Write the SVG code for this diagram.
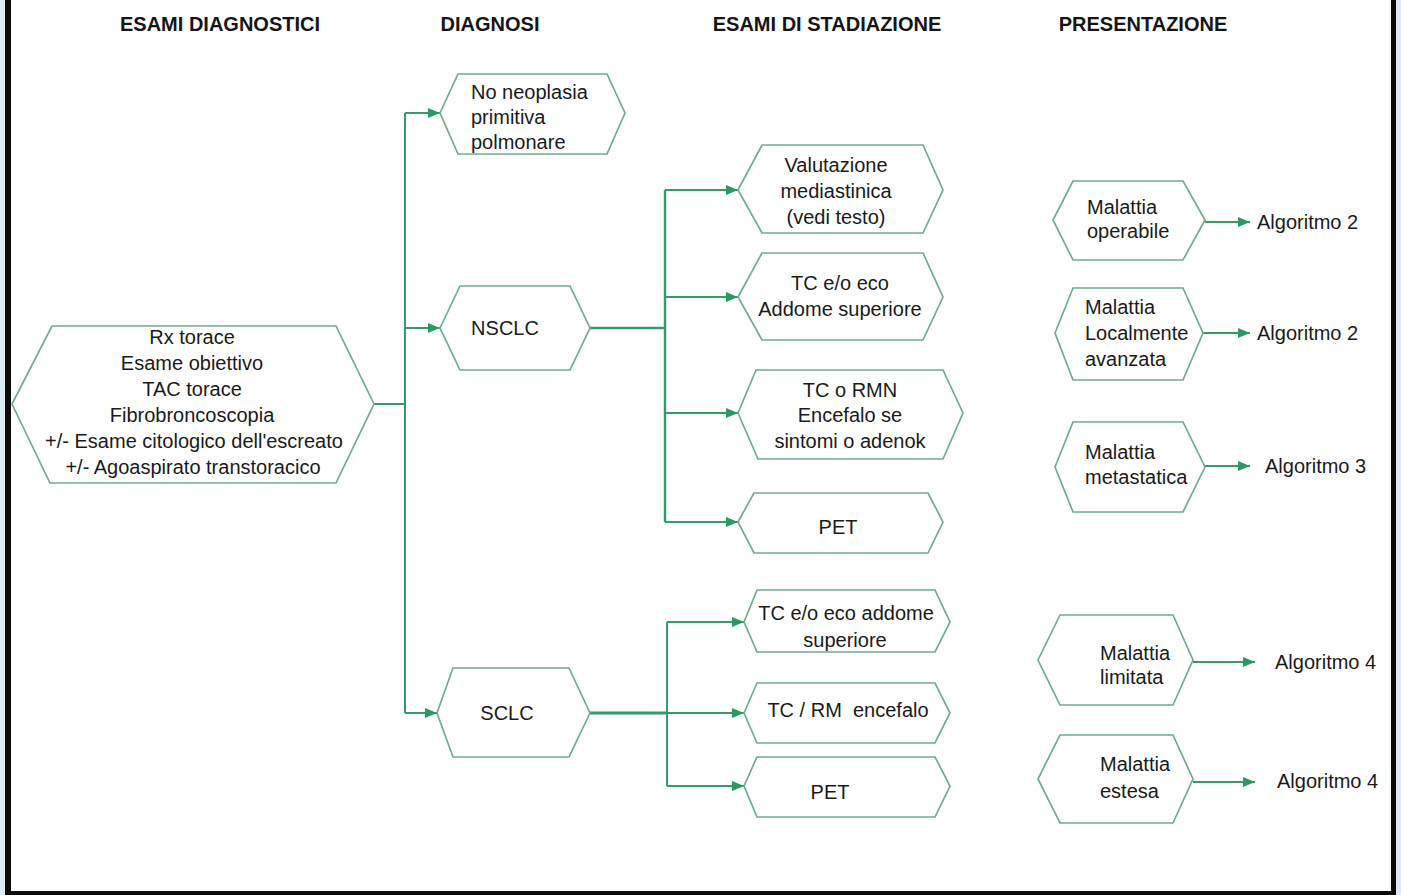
<svg xmlns="http://www.w3.org/2000/svg" width="1401" height="895" viewBox="0 0 1401 895">
<style>
.hex{fill:#ffffff;stroke:#72aa91;stroke-width:1.7}
.t{font-family:"Liberation Sans",Arial,sans-serif;font-size:20px;fill:#1a1a1a}
.c{text-anchor:middle}
.h{font-family:"Liberation Sans",Arial,sans-serif;font-size:20px;font-weight:bold;fill:#151515;text-anchor:middle}
.ln{fill:none;stroke:#369a6a;stroke-width:2}
.thick{stroke-width:3}
.ar{fill:none;stroke:#369a6a;stroke-width:2;marker-end:url(#ah)}
</style>
<defs>
<marker id="ah" markerUnits="userSpaceOnUse" markerWidth="12" markerHeight="10" refX="12" refY="5" orient="auto">
<path d="M0,0 L12,5 L0,10 z" fill="#2a9a62"/>
</marker>
</defs>
<g id="frame">
<rect x="0" y="0" width="1401" height="895" fill="#ffffff"/>
<rect x="0" y="0" width="5" height="895" fill="#dcebf3"/>
<rect x="5" y="0" width="6" height="895" fill="#0a0a0a"/>
<rect x="1396" y="0" width="5" height="895" fill="#dcebf3"/>
<rect x="1391" y="0" width="5" height="895" fill="#0a0a0a"/>
<rect x="5" y="891" width="1391" height="4" fill="#0a0a0a"/>
</g>
<g id="headers">
<text class="h" x="220" y="31">ESAMI DIAGNOSTICI</text>
<text class="h" x="490" y="31">DIAGNOSI</text>
<text class="h" x="827" y="31">ESAMI DI STADIAZIONE</text>
<text class="h" x="1143" y="31">PRESENTAZIONE</text>
</g>
<g id="connectors">
<path class="ln" d="M374,404 H405 M405,113 V713"/>
<path class="ar" d="M405,113 H440"/>
<path class="ar" d="M405,328 H440"/>
<path class="ar" d="M405,713 H437"/>
<path class="ln" d="M590,328 H665 M665,190 V522" style="stroke-width:2.4"/>
<path class="ar" d="M665,190 H738"/>
<path class="ar" d="M665,297 H738"/>
<path class="ar" d="M665,413 H738"/>
<path class="ar" d="M665,522 H738"/>
<path class="ln thick" d="M590,713 H667"/>
<path class="ln" d="M667,622 V786"/>
<path class="ar" d="M667,622 H744"/>
<path class="ar" d="M667,713 H744"/>
<path class="ar" d="M667,786 H744"/>
<path class="ar" d="M1205,222 H1250"/>
<path class="ar" d="M1203,333 H1250"/>
<path class="ar" d="M1205,466 H1250"/>
<path class="ar" d="M1193,662 H1255"/>
<path class="ar" d="M1193,782 H1255"/>
</g>
<g id="esami-diagnostici">
<polygon class="hex" points="12,404 52,326 336,326 374,404 336,483 50,483"/>
<text class="t c" x="192" y="344">Rx torace</text>
<text class="t c" x="192" y="370">Esame obiettivo</text>
<text class="t c" x="192" y="396">TAC torace</text>
<text class="t c" x="192" y="422">Fibrobroncoscopia</text>
<text class="t c" x="194" y="448">+/- Esame citologico dell'escreato</text>
<text class="t c" x="193" y="474">+/- Agoaspirato transtoracico</text>
</g>
<g id="no-neoplasia">
<polygon class="hex" points="440,113 458,74 607,74 625,113 607,154 458,154"/>
<text class="t" x="471" y="99">No neoplasia</text>
<text class="t" x="471" y="124">primitiva</text>
<text class="t" x="471" y="149">polmonare</text>
</g>
<g id="nsclc">
<polygon class="hex" points="440,328 460,286 570,286 590,328 570,370 460,370"/>
<text class="t c" x="505" y="335">NSCLC</text>
</g>
<g id="sclc">
<polygon class="hex" points="437,713 453,668 569,668 590,713 569,757 453,757"/>
<text class="t c" x="507" y="720">SCLC</text>
</g>
<g id="valutazione">
<polygon class="hex" points="738,190 762,145 923,145 943,190 923,233 762,233"/>
<text class="t c" x="836" y="172">Valutazione</text>
<text class="t c" x="836" y="198">mediastinica</text>
<text class="t c" x="836" y="224">(vedi testo)</text>
</g>
<g id="tc-eco-nsclc">
<polygon class="hex" points="738,297 762,253 923,253 943,297 923,340 762,340"/>
<text class="t c" x="840" y="290">TC e/o eco</text>
<text class="t c" x="840" y="316">Addome superiore</text>
</g>
<g id="tc-rmn">
<polygon class="hex" points="738,413 756,370 943,370 963,413 943,459 758,459"/>
<text class="t c" x="850" y="397">TC o RMN</text>
<text class="t c" x="850" y="422">Encefalo se</text>
<text class="t c" x="850" y="448">sintomi o adenok</text>
</g>
<g id="pet-nsclc">
<polygon class="hex" points="738,522 754,493 928,493 943,522 928,553 754,553"/>
<text class="t c" x="838" y="534">PET</text>
</g>
<g id="tc-eco-sclc">
<polygon class="hex" points="744,622 757,590 935,590 950,622 935,652 757,652"/>
<text class="t c" x="846" y="620">TC e/o eco addome</text>
<text class="t c" x="845" y="647">superiore</text>
</g>
<g id="tc-rm-sclc">
<polygon class="hex" points="744,713 757,683 935,683 950,713 935,743 757,743"/>
<text class="t c" x="848" y="717" xml:space="preserve">TC / RM  encefalo</text>
</g>
<g id="pet-sclc">
<polygon class="hex" points="744,786 757,757 935,757 950,786 935,817 757,817"/>
<text class="t c" x="830" y="799">PET</text>
</g>
<g id="operabile">
<polygon class="hex" points="1053,220 1073,181 1183,181 1205,220 1183,260 1073,260"/>
<text class="t" x="1087" y="214">Malattia</text>
<text class="t" x="1087" y="238">operabile</text>
<text class="t" x="1257" y="229">Algoritmo 2</text>
</g>
<g id="localmente-avanzata">
<polygon class="hex" points="1055,333 1073,288 1183,288 1203,333 1183,380 1073,380"/>
<text class="t" x="1085" y="314">Malattia</text>
<text class="t" x="1085" y="340">Localmente</text>
<text class="t" x="1085" y="366">avanzata</text>
<text class="t" x="1257" y="340">Algoritmo 2</text>
</g>
<g id="metastatica">
<polygon class="hex" points="1055,467 1073,422 1183,422 1205,467 1183,512 1073,512"/>
<text class="t" x="1085" y="459">Malattia</text>
<text class="t" x="1085" y="484">metastatica</text>
<text class="t" x="1265" y="473">Algoritmo 3</text>
</g>
<g id="limitata">
<polygon class="hex" points="1038,660 1060,615 1173,615 1193,660 1173,705 1060,705"/>
<text class="t" x="1100" y="660">Malattia</text>
<text class="t" x="1100" y="684">limitata</text>
<text class="t" x="1275" y="669">Algoritmo 4</text>
</g>
<g id="estesa">
<polygon class="hex" points="1038,779 1060,735 1173,735 1193,779 1173,823 1060,823"/>
<text class="t" x="1100" y="771">Malattia</text>
<text class="t" x="1100" y="798">estesa</text>
<text class="t" x="1277" y="788">Algoritmo 4</text>
</g>
</svg>
